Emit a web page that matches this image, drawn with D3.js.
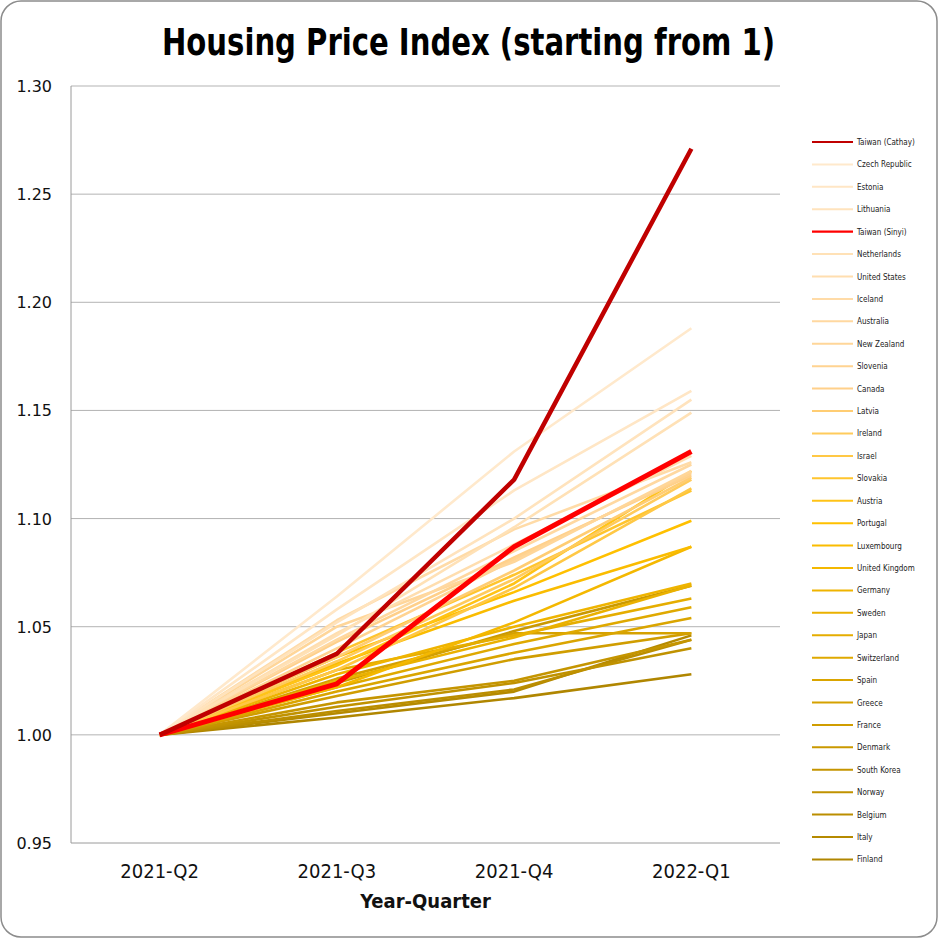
<!DOCTYPE html>
<html>
<head>
<meta charset="utf-8">
<script src="https://cdn.jsdelivr.net/npm/d3@7"></script>
<style>
  body { margin: 0; background: #fff; }
</style>
</head>
<body>
<script>
var quarters = ["2021-Q2", "2021-Q3", "2021-Q4", "2022-Q1"];

var countries = [
  "Taiwan (Cathay)", "Czech Republic", "Estonia", "Lithuania", "Taiwan (Sinyi)",
  "Netherlands", "United States", "Iceland", "Australia", "New Zealand",
  "Slovenia", "Canada", "Latvia", "Ireland", "Israel", "Slovakia", "Austria",
  "Portugal", "Luxembourg", "United Kingdom", "Germany", "Sweden", "Japan",
  "Switzerland", "Spain", "Greece", "France", "Denmark", "South Korea",
  "Norway", "Belgium", "Italy", "Finland"
];

// index values per quarter, same order as countries
var values = [
  [1, 1.0375, 1.118, 1.271],
  [1, 1.064, 1.131, 1.188],
  [1, 1.058, 1.113, 1.159],
  [1, 1.052, 1.100, 1.155],
  [1, 1.0236, 1.087, 1.131],
  [1, 1.046, 1.096, 1.149],
  [1, 1.047, 1.088, 1.129],
  [1, 1.053, 1.095, 1.126],
  [1, 1.044, 1.085, 1.125],
  [1, 1.050, 1.080, 1.122],
  [1, 1.040, 1.081, 1.121],
  [1, 1.043, 1.082, 1.120],
  [1, 1.036, 1.076, 1.119],
  [1, 1.034, 1.072, 1.118],
  [1, 1.030, 1.068, 1.114],
  [1, 1.038, 1.074, 1.113],
  [1, 1.032, 1.070, 1.122],
  [1, 1.036, 1.066, 1.099],
  [1, 1.033, 1.062, 1.087],
  [1, 1.022, 1.052, 1.087],
  [1, 1.028, 1.050, 1.070],
  [1, 1.025, 1.045, 1.069],
  [1, 1.030, 1.046, 1.063],
  [1, 1.022, 1.042, 1.059],
  [1, 1.020, 1.038, 1.054],
  [1, 1.026, 1.047, 1.047],
  [1, 1.018, 1.035, 1.047],
  [1, 1.024, 1.048, 1.069],
  [1, 1.015, 1.025, 1.044],
  [1, 1.013, 1.024, 1.040],
  [1, 1.011, 1.021, 1.044],
  [1, 1.010, 1.020, 1.046],
  [1, 1.008, 1.017, 1.028]
];

var yTicks = [0.95, 1.00, 1.05, 1.10, 1.15, 1.20, 1.25, 1.30];

var W = 938, H = 938;
var margin = {left: 71, right: 158, top: 86, bottom: 95};

var svg = d3.select("body").append("svg")
    .attr("width", W)
    .attr("height", H);

svg.append("rect")
    .attr("x", 1).attr("y", 1)
    .attr("width", W - 2).attr("height", H - 2)
    .attr("rx", 20)
    .attr("fill", "#fff")
    .attr("stroke", "#8c8c8c")
    .attr("stroke-width", 1.5);

var x = d3.scalePoint()
    .domain(quarters)
    .range([margin.left, W - margin.right])
    .padding(0.5);

var y = d3.scaleLinear()
    .domain([0.95, 1.30])
    .range([H - margin.bottom, margin.top]);

// colour ramp for non-Taiwan series, in legend order
var others = countries.filter(function(c) { return c.indexOf("Taiwan") < 0; });
var ramp = d3.scaleLinear()
    .domain([0, 9, 15, 30])
    .range(["#ffe9cc", "#ffd08a", "#ffc000", "#b08600"]);

function colorOf(name) {
  if (name == "Taiwan (Cathay)") return "#c00000";
  if (name == "Taiwan (Sinyi)") return "#ff0000";
  return ramp(others.indexOf(name));
}
function widthOf(name) {
  if (name == "Taiwan (Cathay)") return 4.5;
  if (name == "Taiwan (Sinyi)") return 5;
  return 2.6;
}

// gridlines
svg.append("g")
  .selectAll("line")
    .data(yTicks.slice(1))
  .enter().append("line")
    .attr("x1", margin.left)
    .attr("x2", W - margin.right)
    .attr("y1", function(d) { return y(d); })
    .attr("y2", function(d) { return y(d); })
    .attr("stroke", "#b3b3b3")
    .attr("stroke-width", 1);

// axes lines
svg.append("line")
    .attr("x1", margin.left).attr("x2", margin.left)
    .attr("y1", y(1.30)).attr("y2", y(0.95))
    .attr("stroke", "#9a9a9a");
svg.append("line")
    .attr("x1", margin.left).attr("x2", W - margin.right)
    .attr("y1", y(0.95)).attr("y2", y(0.95))
    .attr("stroke", "#9a9a9a");

// y tick labels
svg.append("g")
  .selectAll("text")
    .data(yTicks)
  .enter().append("text")
    .attr("x", 52)
    .attr("y", function(d) { return y(d) + 6; })
    .attr("text-anchor", "end")
    .style("font-family", "DejaVu Sans")
    .style("font-size", "16px")
    .style("font-weight", 500)
    .attr("fill", "#111")
    .text(function(d) { return d.toFixed(2); });

// x tick labels
svg.append("g")
  .selectAll("text")
    .data(quarters)
  .enter().append("text")
    .attr("x", function(d) { return x(d); })
    .attr("y", 878)
    .attr("text-anchor", "middle")
    .style("font-family", "'Liberation Sans Narrow', 'DejaVu Sans Condensed', sans-serif")
    .style("font-size", "20px")
    .attr("fill", "#111")
    .text(function(d) { return d; });

svg.append("text")
    .attr("x", x.range()[0] + (x.range()[1] - x.range()[0]) / 2)
    .attr("y", 908)
    .attr("text-anchor", "middle")
    .style("font-family", "'Liberation Sans Narrow', 'DejaVu Sans Condensed', sans-serif")
    .style("font-size", "20px")
    .style("font-weight", "bold")
    .attr("fill", "#111")
    .text("Year-Quarter");

svg.append("text")
    .attr("x", 162)
    .attr("y", 55)
    .attr("textLength", 613)
    .attr("lengthAdjust", "spacingAndGlyphs")
    .style("font-family", "'Liberation Sans Narrow', 'DejaVu Sans Condensed', sans-serif")
    .style("font-size", "38px")
    .style("font-weight", "bold")
    .attr("fill", "#000")
    .text("Housing Price Index  (starting from 1)");

// lines
var series = countries.map(function(c, i) {
  return {name: c, vals: values[i]};
});
var drawOrder = series.filter(function(s) { return s.name.indexOf("Taiwan") < 0; }).reverse()
    .concat(series.filter(function(s) { return s.name == "Taiwan (Sinyi)"; }))
    .concat(series.filter(function(s) { return s.name == "Taiwan (Cathay)"; }));

var line = d3.line()
    .x(function(d, i) { return x(quarters[i]); })
    .y(function(d) { return y(d); });

svg.append("g")
  .selectAll("path")
    .data(drawOrder)
  .enter().append("path")
    .attr("d", function(d) { return line(d.vals); })
    .attr("fill", "none")
    .attr("stroke", function(d) { return colorOf(d.name); })
    .attr("stroke-width", function(d) { return widthOf(d.name); })
    .attr("stroke-linejoin", "round");

// legend
var legend = svg.append("g")
  .selectAll("g")
    .data(countries)
  .enter().append("g")
    .attr("transform", function(d, i) { return "translate(812," + (142 + i * 22.42) + ")"; });

legend.append("line")
    .attr("x1", 0).attr("x2", 41)
    .attr("stroke", function(d) { return colorOf(d); })
    .attr("stroke-width", function(d) { return d.indexOf("Taiwan") < 0 ? 2 : 2.2; });

legend.append("text")
    .attr("x", 45)
    .attr("y", 3)
    .style("font-family", "'DejaVu Sans Condensed', sans-serif")
    .style("font-size", "8px")
    .attr("fill", "#222")
    .text(function(d) { return d; });
</script>
</body>
</html>
